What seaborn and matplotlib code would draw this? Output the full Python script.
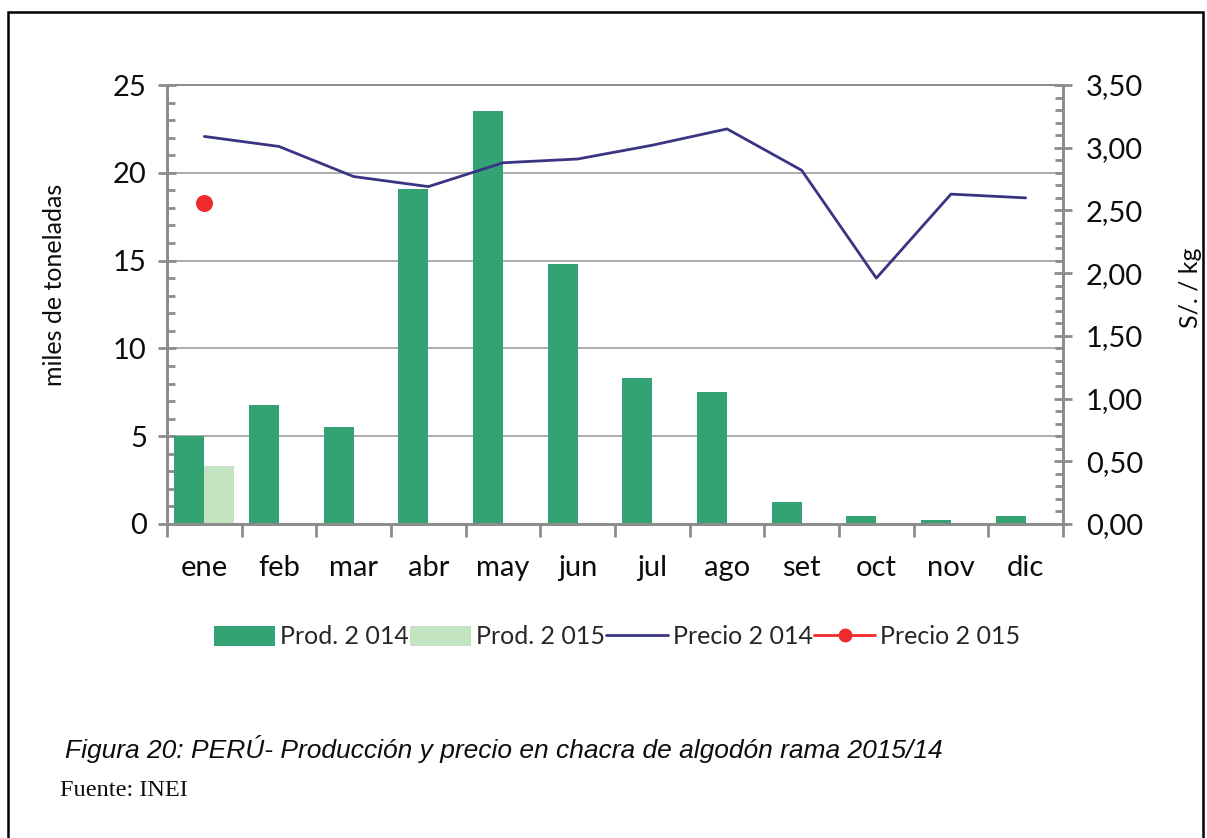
import numpy as np
import pandas as pd
import matplotlib
matplotlib.use("Agg")
import matplotlib.pyplot as plt
from matplotlib.lines import Line2D
from matplotlib.patches import Patch, Rectangle
from matplotlib.ticker import MultipleLocator
import seaborn as sns

# ── data ─────────────────────────────────────────────────────────────────────
months = ["ene", "feb", "mar", "abr", "may", "jun",
          "jul", "ago", "set", "oct", "nov", "dic"]
prod_2014 = [5.0, 6.8, 5.5, 19.1, 23.5, 14.8, 8.3, 7.5, 1.25, 0.45, 0.2, 0.45]
prod_2015 = [3.3, np.nan, np.nan, np.nan, np.nan, np.nan,
             np.nan, np.nan, np.nan, np.nan, np.nan, np.nan]
precio_2014 = [3.09, 3.01, 2.77, 2.69, 2.88, 2.91, 3.02, 3.15, 2.82, 1.96, 2.63, 2.60]
precio_2015 = [2.56]
series_prod = ["Prod. 2 014", "Prod. 2 015"]
series_precio = ["Precio 2 014", "Precio 2 015"]
prod_ticks = [0, 5, 10, 15, 20, 25]
precio_ticks = [0.0, 0.5, 1.0, 1.5, 2.0, 2.5, 3.0, 3.5]

C_2014 = "#33A373"
C_2015 = "#C4E3C1"
C_LINE = "#3A3582"
C_DOT = "#EE2A2A"
C_AX = "#8C8C8C"
C_TXT = "#0D0D0D"

df = pd.DataFrame({
    "mes": months * 2,
    "serie": [series_prod[0]] * 12 + [series_prod[1]] * 12,
    "valor": prod_2014 + prod_2015,
}).dropna()

sns.set_style("white")
plt.rcParams["font.family"] = ["Lato", "DejaVu Sans"]

W, H = 1207, 838
fig = plt.figure(figsize=(W / 100, H / 100), dpi=100)
ax = fig.add_axes([167 / W, 1 - 524 / H, (1063 - 167) / W, (524 - 85) / H])

sns.barplot(data=df, x="mes", y="valor", hue="serie", order=months,
            hue_order=series_prod, palette=[C_2014, C_2015], width=0.8,
            saturation=1, linewidth=0, legend=False, ax=ax, zorder=2)

ax2 = ax.twinx()
idx = np.arange(len(months))
sns.lineplot(x=idx, y=precio_2014, color=C_LINE, lw=2.0, ax=ax2, zorder=3)
sns.scatterplot(x=idx[:1], y=precio_2015, color=C_DOT, s=150, linewidth=0,
                ax=ax2, zorder=4)

# ── axes styling ─────────────────────────────────────────────────────────────
ax.set_xlim(-0.5, 11.5)
ax.set_ylim(0, 25)
ax2.set_ylim(0, 3.5)
ax.set_xlabel("")
ax.set_ylabel("")
ax2.set_ylabel("")

ax.set_yticks(prod_ticks)
ax.set_yticklabels([str(v) for v in prod_ticks])
ax.yaxis.set_minor_locator(MultipleLocator(1))
ax2.set_yticks(precio_ticks)
ax2.set_yticklabels([f"{v:.2f}".replace(".", ",") for v in precio_ticks])
ax2.yaxis.set_minor_locator(MultipleLocator(0.1))

ax.set_xticks(np.arange(-0.5, 12, 1))
ax.set_xticklabels([""] * 13)
ax.set_xticks(idx, minor=True)
ax.set_xticklabels(months, minor=True)

ax.yaxis.grid(True, color="#A6A6A6", lw=1.3)
ax.set_axisbelow(True)

for a in (ax, ax2):
    for s in a.spines.values():
        s.set_color(C_AX)
        s.set_linewidth(2)
    a.spines["top"].set_linewidth(1.3)

ax.tick_params(axis="x", which="major", direction="out", length=9, width=2,
               color=C_AX, bottom=True)
ax.tick_params(axis="x", which="minor", length=0, pad=22, labelsize=21,
               labelcolor=C_TXT)
ax.tick_params(axis="y", which="major", direction="inout", length=13, width=2,
               color=C_AX, pad=8, labelsize=21, labelcolor=C_TXT, left=True)
ax.tick_params(axis="y", which="minor", direction="in", length=6, width=2,
               color=C_AX, left=True)
ax2.tick_params(axis="y", which="major", direction="inout", length=13, width=2,
                color=C_AX, pad=10, labelsize=21, labelcolor=C_TXT, right=True)
ax2.tick_params(axis="y", which="minor", direction="in", length=6, width=2,
                color=C_AX, right=True)

fig.text(55 / W, 1 - 285 / H, "miles de toneladas", rotation=90, fontsize=18,
         ha="center", va="center", color=C_TXT)
fig.text(1190 / W, 1 - 288 / H, "S/. / kg", rotation=90, fontsize=18,
         ha="center", va="center", color=C_TXT)

# ── legend ───────────────────────────────────────────────────────────────────
handles = [
    Patch(facecolor=C_2014, edgecolor="none"),
    Patch(facecolor=C_2015, edgecolor="none"),
    Line2D([], [], color=C_LINE, lw=2.0),
    Line2D([], [], color=C_DOT, lw=2.0, marker="o", markersize=9),
]
fig.legend(handles, series_prod + series_precio, loc="center",
           bbox_to_anchor=(617 / W, 1 - 637 / H), ncol=4, frameon=False,
           fontsize=18, handlelength=2.45, handleheight=0.85, handletextpad=0.2,
           columnspacing=0.05, borderaxespad=0)

# ── caption + frame ──────────────────────────────────────────────────────────
fig.text(65 / W, 1 - 749 / H,
         "Figura 20: PERÚ- Producción y precio en chacra de algodón rama 2015/14",
         fontsize=19, style="italic", family="Liberation Sans",
         ha="left", va="center", color=C_TXT)
fig.text(60 / W, 1 - 790 / H, "Fuente: INEI", fontsize=17.5,
         family="Liberation Serif", ha="left", va="center", color=C_TXT)

fig.add_artist(Rectangle((8 / W, -0.05), (1203 - 8) / W, 1.05 - 12 / H,
                         transform=fig.transFigure, fill=False,
                         edgecolor="black", lw=1.8))

fig.savefig("out.png", dpi=100)
